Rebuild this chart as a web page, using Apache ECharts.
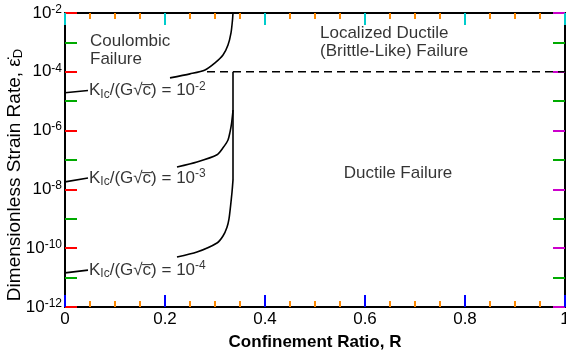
<!DOCTYPE html>
<html>
<head>
<meta charset="utf-8">
<script src="https://cdn.jsdelivr.net/npm/echarts@6/dist/echarts.min.js"></script>
<style>
  html, body { margin: 0; padding: 0; background: #fff; }
  #chart { width: 566px; height: 352px; }
</style>
</head>
<body>
<div id="chart"></div>
<script>
// confinement ratio R vs dimensionless strain rate
// each curve is split in two pieces, the gap is where its label sits
const curve1Left = [[0, 1.95e-5], [0.046, 2.3e-5]];
const curve1Right = [[0.21, 6.2e-5], [0.25, 8.5e-5], [0.28, 1.15e-4], [0.30, 2.0e-4], [0.316, 3.7e-4], [0.326, 8.1e-4], [0.332, 2.1e-3], [0.335, 5.8e-3], [0.336, 1e-2]];
const curve2Left = [[0, 1.8e-8], [0.046, 2.45e-8]];
const curve2Right = [[0.224, 5.75e-8], [0.264, 8.5e-8], [0.304, 1.5e-7], [0.316, 2.6e-7], [0.326, 4.8e-7], [0.33, 8.9e-7], [0.333, 1.7e-6], [0.335, 3.3e-6], [0.336, 5e-6]];
const curve3Left = [[0, 1.45e-11], [0.046, 1.8e-11]];
const curve3Right = [[0.224, 5e-11], [0.264, 7.4e-11], [0.304, 1.5e-10], [0.316, 2.6e-10], [0.324, 5.2e-10], [0.328, 1.0e-9], [0.331, 2.6e-9], [0.334, 8e-9], [0.336, 2.1e-8]];
const ductileBoundary = [[0.336, 2.1e-8], [0.336, 1e-4]];
const brittleBoundary = [[0.284, 1e-4], [1, 1e-4]];

const curveLabels = ['-2', '-3', '-4'];
const curveLabelAt = [curve1Left[1], curve2Left[1], curve3Left[1]];

const regionNames = ['Coulombic\nFailure', 'Localized Ductile\n(Brittle-Like) Failure', 'Ductile Failure'];
const regionAt = [[0.05, 5.5e-4], [0.51, 1.0e-3], [0.666, 3.6e-8]];

const FONT = 'Liberation Sans, Arial, Helvetica, sans-serif';

// y axis runs in decades (log10 of the rate)
const toDecades = pts => pts.map(([r, v]) => [r, Math.log10(v)]);

const chart = echarts.init(document.getElementById('chart'));

function lineSeries(data, dashed) {
  return {
    type: 'line',
    data: toDecades(data),
    symbol: 'none',
    smooth: dashed ? false : 0.25,
    silent: true,
    lineStyle: { color: '#000', width: 1.6, type: dashed ? [8, 5] : 'solid' }
  };
}

const series = [
  curve1Left, curve1Right, curve2Left, curve2Right, curve3Left, curve3Right, ductileBoundary
].map(d => lineSeries(d, false));
series.push(lineSeries(brittleBoundary, true));

// curve labels, hung on the end of the left piece of each curve
series.push({
  type: 'scatter',
  symbolSize: 0,
  silent: true,
  data: toDecades(curveLabelAt).map(p => ({ value: p })),
  label: {
    show: true,
    position: 'right',
    distance: 1,
    color: '#000',
    fontFamily: FONT,
    formatter: p => '{t|K}{sub|Ic}{t|/(G√c̅) = 10}{sup|' + curveLabels[p.dataIndex] + '}',
    rich: {
      t: { fontSize: 17, fontFamily: FONT, color: '#000', lineHeight: 20 },
      sub: { fontSize: 12, fontFamily: FONT, color: '#000', verticalAlign: 'bottom', lineHeight: 12 },
      sup: { fontSize: 12, fontFamily: FONT, color: '#000', verticalAlign: 'top', lineHeight: 12 }
    }
  }
});

// region names
series.push({
  type: 'scatter',
  symbolSize: 0,
  silent: true,
  data: toDecades(regionAt).map((p, i) => ({
    value: p,
    label: { align: i === 2 ? 'center' : 'left' }
  })),
  label: {
    show: true,
    position: [0, 0],
    verticalAlign: 'middle',
    fontSize: 17,
    lineHeight: 18,
    fontFamily: FONT,
    color: '#000',
    formatter: p => regionNames[p.dataIndex]
  }
});

const supRich = {
  b: { fontSize: 17, fontFamily: FONT, color: '#000', lineHeight: 19 },
  s: { fontSize: 12, fontFamily: FONT, color: '#000', verticalAlign: 'top', lineHeight: 12 }
};

// onZero off, otherwise the mirror axes snap onto the other axis's zero
const axisLine = () => ({ show: true, onZero: false, lineStyle: { color: '#000', width: 2 } });
// temporary colours to see which tick sets get drawn
const ticks = (len, c) => ({ show: true, inside: true, length: len, lineStyle: { color: c, width: 2 } });
const minor = (n, len, c) => ({ show: true, splitNumber: n, length: len, lineStyle: { color: c, width: 2 } });

chart.setOption({
  animation: false,
  backgroundColor: '#fff',
  grid: { left: 65, right: 1, top: 13, bottom: 45, outerBoundsMode: 'none', containLabel: false },
  graphic: [{
    type: 'text',
    x: 15, y: 175,
    rotation: Math.PI / 2,
    style: {
      text: 'Dimensionless Strain Rate, ε̇{sub|D}',
      fontSize: 19,
      fontFamily: FONT,
      fill: '#000',
      align: 'center',
      verticalAlign: 'middle',
      rich: {
        sub: { fontSize: 13, fontFamily: FONT, fill: '#000', verticalAlign: 'bottom', lineHeight: 13 }
      }
    }
  }],
  xAxis: [{
    type: 'value',
    position: 'bottom',
    min: 0, max: 1, interval: 0.2,
    name: 'Confinement Ratio, R',
    nameLocation: 'middle',
    nameGap: 27,
    nameTextStyle: { fontSize: 17, fontWeight: 'bold', fontFamily: FONT, color: '#000' },
    axisLine: axisLine(),
    axisTick: ticks(12, '#00f'),
    minorTick: minor(4, 6, '#f80'),
    splitLine: { show: false },
    axisLabel: {
      fontSize: 17, fontFamily: FONT, color: '#000', margin: 4,
      formatter: v => String(Math.round(v * 10) / 10)
    }
  }, {
    type: 'value',
    position: 'top',
    min: 0, max: 1, interval: 0.2,
    axisLine: axisLine(),
    axisTick: ticks(12, '#0cc'),
    minorTick: minor(4, 6, '#f80'),
    splitLine: { show: false },
    axisLabel: { show: false }
  }],
  yAxis: [{
    type: 'value',
    position: 'left',
    min: -12, max: -2, interval: 2,
    axisLine: axisLine(),
    axisTick: ticks(12, '#f00'),
    minorTick: minor(2, 12, '#0a0'),
    splitLine: { show: false },
    minorSplitLine: { show: false },
    axisLabel: {
      margin: 3,
      formatter: v => '{b|10}{s|' + v + '}',
      rich: supRich
    }
  }, {
    type: 'value',
    position: 'right',
    min: -12, max: -2, interval: 2,
    axisLine: axisLine(),
    axisTick: ticks(12, '#c0c'),
    minorTick: minor(2, 12, '#0a0'),
    splitLine: { show: false },
    minorSplitLine: { show: false },
    axisLabel: { show: false }
  }],
  series: series
});
</script>
</body>
</html>
